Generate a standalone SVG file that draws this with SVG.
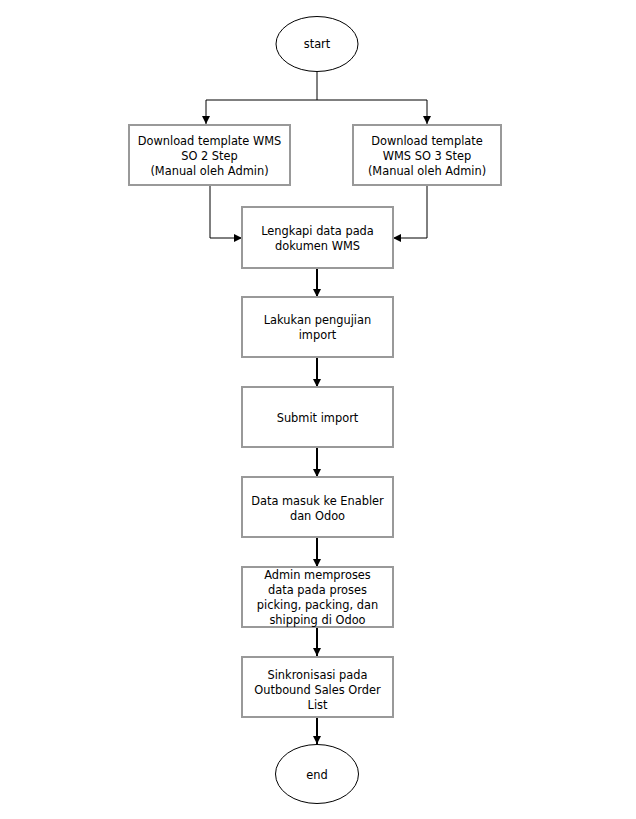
<svg xmlns="http://www.w3.org/2000/svg" width="636" height="819" viewBox="0 0 636 819">
<style>
.box{fill:#fff;stroke:#999;stroke-width:2}
.term{fill:#fff;stroke:#000;stroke-width:1}
.t{font-family:"DejaVu Sans","Open Sans",sans-serif;font-size:11.4px;fill:#000;text-anchor:middle}
.c{fill:none;stroke:#000;stroke-width:1}
.v{fill:none;stroke:#000;stroke-width:2}
</style>
<defs>
<marker id="ah" viewBox="0 0 8 8" refX="8" refY="4" markerWidth="8" markerHeight="8" markerUnits="userSpaceOnUse" orient="auto">
<path d="M0,0 L8,4 L0,8 Z" fill="#000"/>
</marker>
</defs>
<rect width="636" height="819" fill="#fff"/>
<g id="connectors">
<path class="c" d="M317,72 V100 H206 V124" marker-end="url(#ah)"/>
<path class="c" d="M317,100 H427 V124" marker-end="url(#ah)"/>
<path class="c" d="M210,186 V238 H242" marker-end="url(#ah)"/>
<path class="c" d="M427,186 V238 H393" marker-end="url(#ah)"/>
<path class="v" d="M317,268 V297" marker-end="url(#ah)"/>
<path class="v" d="M317,357 V387" marker-end="url(#ah)"/>
<path class="v" d="M317,447 V477" marker-end="url(#ah)"/>
<path class="v" d="M317,537 V567" marker-end="url(#ah)"/>
<path class="v" d="M317,627 V656" marker-end="url(#ah)"/>
<path class="v" d="M317,717 V744" marker-end="url(#ah)"/>
</g>
<g id="start">
<ellipse class="term" cx="317" cy="44" rx="41" ry="27.5"/>
<text class="t" x="317" y="48">start</text>
</g>
<g id="dl2">
<rect class="box" x="129" y="125" width="161" height="60"/>
<text class="t" x="209.5" y="145">Download template WMS</text>
<text class="t" x="209.5" y="160">SO 2 Step</text>
<text class="t" x="209.5" y="175">(Manual oleh Admin)</text>
</g>
<g id="dl3">
<rect class="box" x="353" y="125" width="148" height="60"/>
<text class="t" x="427" y="145">Download template</text>
<text class="t" x="427" y="160">WMS SO 3 Step</text>
<text class="t" x="427" y="175">(Manual oleh Admin)</text>
</g>
<g id="lengkapi">
<rect class="box" x="242" y="207" width="151" height="61"/>
<text class="t" x="317.5" y="235">Lengkapi data pada</text>
<text class="t" x="317.5" y="250">dokumen WMS</text>
</g>
<g id="uji">
<rect class="box" x="242" y="297" width="151" height="60"/>
<text class="t" x="317.5" y="324">Lakukan pengujian</text>
<text class="t" x="317.5" y="339">import</text>
</g>
<g id="submit">
<rect class="box" x="242" y="387" width="151" height="60"/>
<text class="t" x="317.5" y="422">Submit import</text>
</g>
<g id="masuk">
<rect class="box" x="242" y="477" width="151" height="60"/>
<text class="t" x="317.5" y="505">Data masuk ke Enabler</text>
<text class="t" x="317.5" y="520">dan Odoo</text>
</g>
<g id="proses">
<rect class="box" x="242" y="567" width="151" height="60"/>
<text class="t" x="317.5" y="579">Admin memproses</text>
<text class="t" x="317.5" y="594">data pada proses</text>
<text class="t" x="317.5" y="609">picking, packing, dan</text>
<text class="t" x="317.5" y="624">shipping di Odoo</text>
</g>
<g id="sinkron">
<rect class="box" x="242" y="657" width="151" height="60"/>
<text class="t" x="317.5" y="679">Sinkronisasi pada</text>
<text class="t" x="317.5" y="694">Outbound Sales Order</text>
<text class="t" x="317.5" y="709">List</text>
</g>
<g id="end">
<ellipse class="term" cx="317" cy="774" rx="41.5" ry="29.5"/>
<text class="t" x="317" y="779">end</text>
</g>
</svg>
